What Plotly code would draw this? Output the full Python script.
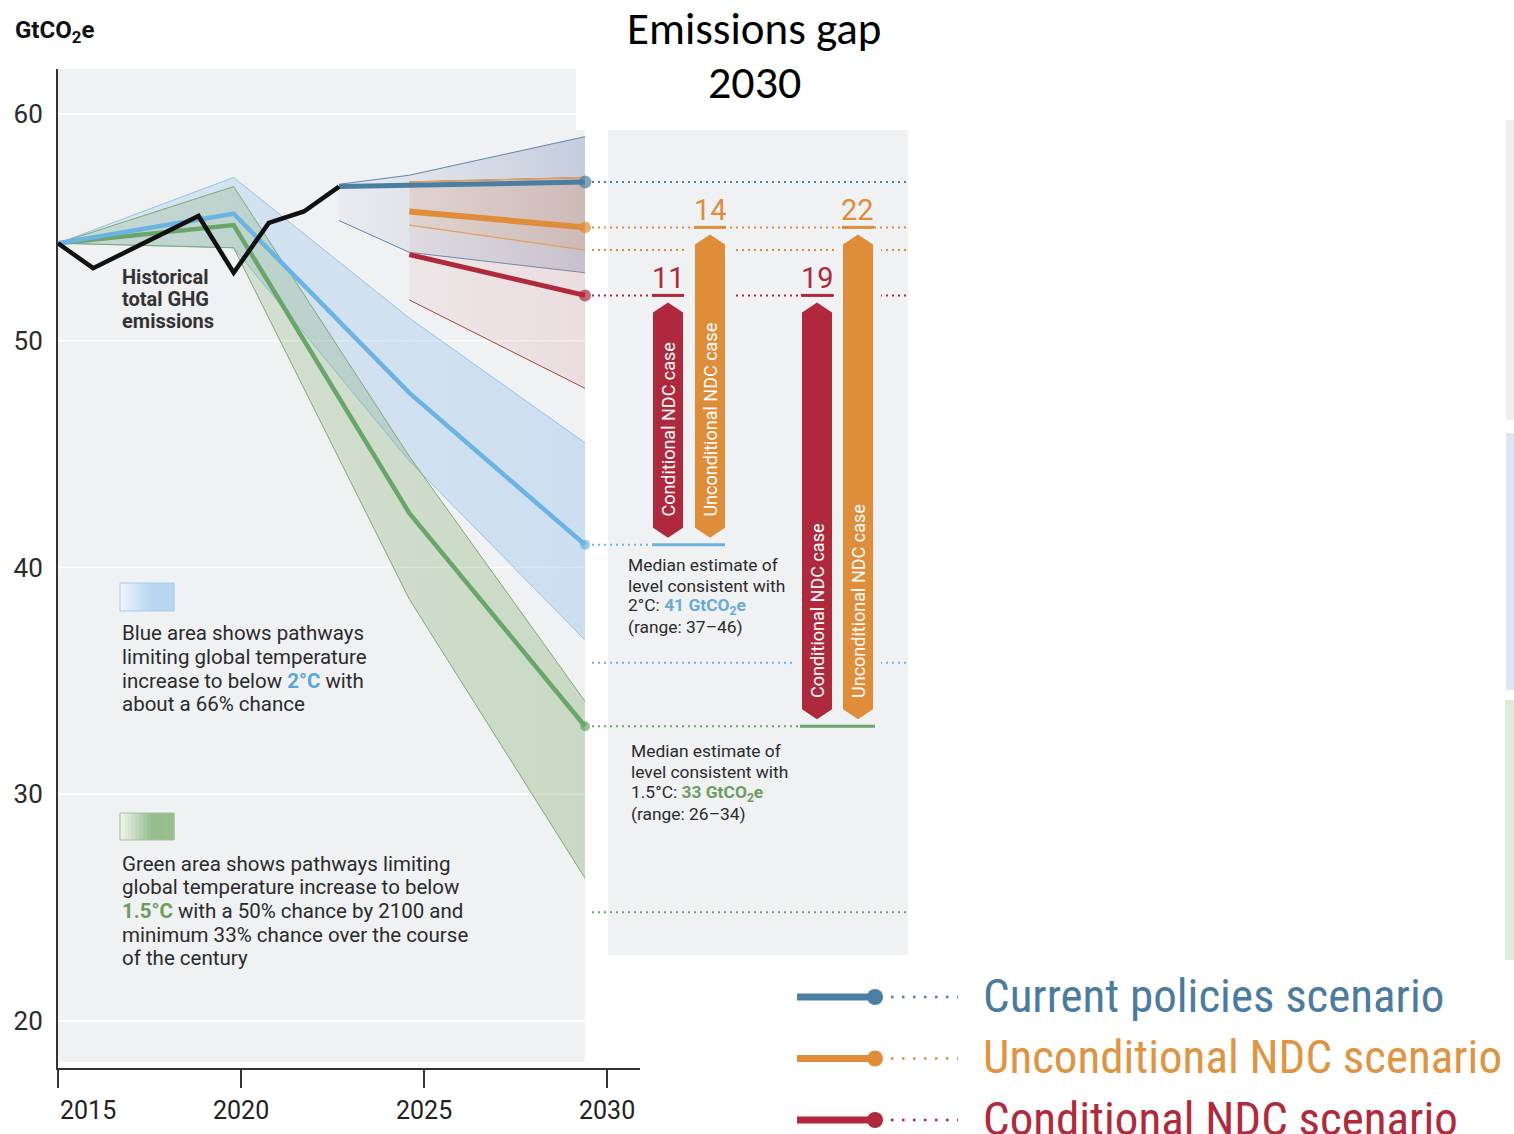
import plotly.graph_objects as go

# ---------------- data ----------------
hist_years = [2015, 2016, 2019, 2020, 2021, 2022, 2023]
hist_values = [54.3, 53.2, 55.5, 53.0, 55.2, 55.7, 56.8]

path_years = [2015, 2020, 2025, 2030]
two_deg_median = [54.3, 55.6, 47.7, 41.0]
two_deg_upper = [54.3, 57.2, 51.0, 45.5]
two_deg_lower = [54.3, 54.1, 44.7, 36.8]
one5_median = [54.3, 55.1, 42.4, 33.0]
one5_upper = [54.3, 56.8, 44.9, 34.1]
one5_lower = [54.3, 54.1, 38.6, 26.3]

cp_line_years = [2023, 2030]
cp_median = [56.8, 57.0]
cp_band_years = [2023, 2025, 2030]
cp_upper = [56.9, 57.3, 59.0]
cp_lower = [55.3, 53.9, 53.0]

ndc_years = [2025, 2030]
uncond_median = [55.7, 55.0]
uncond_upper = [57.0, 57.2]
uncond_lower = [55.1, 54.0]
cond_median = [53.8, 52.0]
cond_upper = [57.0, 57.2]
cond_lower = [51.8, 47.9]

target_2c = 41
target_15 = 33
gap_to_2c = [11, 14]      # conditional, unconditional
gap_to_15 = [19, 22]      # conditional, unconditional
extra_levels = [35.8, 24.8]

x_ticks = [2015, 2020, 2025, 2030]
y_ticks = [20, 30, 40, 50, 60]
legend_labels = ["Current policies scenario", "Unconditional NDC scenario", "Conditional NDC scenario"]

# ---------------- styling ----------------
W, H = 1514, 1134
FONT = "Roboto, 'Open Sans', sans-serif"
BG = "#f0f1f3"
C_CP = "#4a7ea3"
C_UN = "#e08d3a"
C_CO = "#b0283c"
C_2C = "#6cb3e3"
C_15 = "#6aa66a"
TXT = "#2b2b2b"


def px(x):
    return x / W


def py(y):
    return 1 - y / H


# pixel geometry of the plotting frame
X_LEFT, X_AXIS_END = 58, 640
Y_TOP, Y_BOT = 69, 1068
data_ppy = (585 - 58) / 15          # data axis: 2015 -> 58, 2030 -> 585
disp_ppy = (607 - 58) / 15          # tick axis: 2015 -> 58, 2030 -> 607
y_ppu = (1021 - 114) / 40
y_lo = 20 - (Y_BOT - 1021) / y_ppu
y_hi = 60 + (114 - Y_TOP) / y_ppu

fig = go.Figure()


def band(xs, lower, upper, edge, c0, c1, width=1.0):
    fig.add_trace(go.Scatter(x=xs, y=lower, mode="lines", line=dict(color=edge, width=width),
                             hoverinfo="skip", showlegend=False))
    fig.add_trace(go.Scatter(x=xs, y=upper, mode="lines", line=dict(color=edge, width=width),
                             fill="tonexty",
                             fillgradient=dict(type="horizontal", colorscale=[[0, c0], [1, c1]]),
                             hoverinfo="skip", showlegend=False))


band(path_years, two_deg_lower, two_deg_upper, "#93c4e6",
     "rgba(160,200,236,0.30)", "rgba(160,200,236,0.45)")
band(path_years, one5_lower, one5_upper, "#7fa874",
     "rgba(120,165,100,0.20)", "rgba(120,165,100,0.32)")
band(cp_band_years, cp_lower, cp_upper, "#5d86a8",
     "rgba(190,200,218,0.15)", "rgba(165,180,205,0.60)")
band(ndc_years, cond_lower, cond_upper, "#9c4a3c",
     "rgba(215,150,150,0.12)", "rgba(215,150,150,0.22)")
band(ndc_years, uncond_lower, uncond_upper, "#e3a05c",
     "rgba(230,160,90,0.12)", "rgba(225,165,110,0.22)", 1.3)


def median_line(xs, ys, color, width, msize):
    sizes = [0] * (len(xs) - 1) + [msize]
    fig.add_trace(go.Scatter(x=xs, y=ys, mode="lines+markers",
                             line=dict(color=color, width=width),
                             marker=dict(color=color, size=sizes, line=dict(width=0)),
                             hoverinfo="skip", showlegend=False))


median_line(path_years, one5_median, C_15, 4.5, 10)
median_line(path_years, two_deg_median, C_2C, 4.5, 10)
median_line(cp_line_years, cp_median, C_CP, 5, 13)
median_line(ndc_years, cond_median, C_CO, 5, 12)
median_line(ndc_years, uncond_median, C_UN, 6, 12)

fig.add_trace(go.Scatter(x=hist_years, y=hist_values, mode="lines",
                         line=dict(color="#111111", width=4.5), hoverinfo="skip", showlegend=False))

# invisible point so the tick axis gets its own subplot
fig.add_trace(go.Scatter(x=[2015], y=[40], xaxis="x2", yaxis="y", mode="markers",
                         marker=dict(size=1, opacity=0), hoverinfo="skip", showlegend=False))

shapes = []
annotations = []

# ---- panel backgrounds and grid ----
shapes.append(dict(type="rect", xref="paper", yref="paper", x0=px(58), x1=px(576), y0=py(130), y1=py(Y_TOP),
                   fillcolor=BG, line=dict(width=0), layer="below"))
shapes.append(dict(type="rect", xref="paper", yref="paper", x0=px(58), x1=px(585), y0=py(1062), y1=py(130),
                   fillcolor=BG, line=dict(width=0), layer="below"))
shapes.append(dict(type="rect", xref="paper", yref="paper", x0=px(608), x1=px(908), y0=py(955), y1=py(130),
                   fillcolor=BG, line=dict(width=0), layer="below"))
for v in y_ticks:
    shapes.append(dict(type="line", xref="paper", yref="y", x0=px(59), x1=px(585), y0=v, y1=v,
                       line=dict(color="white", width=1.5), layer="below"))

# thin side strips at the right edge
for y0, y1, col, x0 in [(120, 420, "#eeeeee", 1506), (433, 690, "#dbe7f4", 1506), (700, 960, "#e1ecd8", 1505)]:
    shapes.append(dict(type="rect", xref="paper", yref="paper", x0=px(x0), x1=px(1514), y0=py(y1), y1=py(y0),
                       fillcolor=col, line=dict(width=0), layer="below"))


# ---- dotted level lines to the right ----
def dotted(level, x0, x1, color):
    shapes.append(dict(type="line", xref="paper", yref="y", x0=px(x0), x1=px(x1), y0=level, y1=level,
                       line=dict(color=color, width=2, dash="2px,4px")))


dotted(cp_median[-1], 592, 908, C_CP)
dotted(uncond_median[-1], 592, 908, C_UN)
dotted(uncond_lower[-1], 592, 908, C_UN)
dotted(cond_median[-1], 592, 908, C_CO)
dotted(target_2c, 592, 652, C_2C)
dotted(target_15, 592, 800, C_15)
dotted(extra_levels[0], 592, 908, C_2C)
dotted(extra_levels[1], 592, 908, C_15)

# solid target bases
shapes.append(dict(type="line", xref="paper", yref="y", x0=px(652), x1=px(725), y0=target_2c, y1=target_2c,
                   line=dict(color=C_2C, width=3)))
shapes.append(dict(type="line", xref="paper", yref="y", x0=px(800), x1=px(875), y0=target_15, y1=target_15,
                   line=dict(color=C_15, width=3)))

# ---- gap bars ----
pad = 7 / y_ppu
tip = 10 / y_ppu
bars = [
    (668, target_2c, gap_to_2c[0], C_CO, "Conditional NDC case"),
    (710, target_2c, gap_to_2c[1], C_UN, "Unconditional NDC case"),
    (817, target_15, gap_to_15[0], C_CO, "Conditional NDC case"),
    (858, target_15, gap_to_15[1], C_UN, "Unconditional NDC case"),
]


def hexa(xc, hw, top, bot):
    xl, xr, xm = px(xc - hw), px(xc + hw), px(xc)
    return (f"M {xl} {top - tip} L {xm} {top} L {xr} {top - tip} L {xr} {bot + tip} "
            f"L {xm} {bot} L {xl} {bot + tip} Z")


for xc, base, gap, col, label in bars:
    top = base + gap
    shapes.append(dict(type="line", xref="paper", yref="y", x0=px(xc - 16), x1=px(xc + 16), y0=top, y1=top,
                       line=dict(color=col, width=3)))
for xc, base, gap, col, label in bars:
    top = base + gap
    shapes.append(dict(type="path", xref="paper", yref="y", path=hexa(xc, 23, top - pad, base + pad),
                       fillcolor=BG, line=dict(width=0)))
for xc, base, gap, col, label in bars:
    top = base + gap
    shapes.append(dict(type="path", xref="paper", yref="y", path=hexa(xc, 15, top - pad, base + pad),
                       fillcolor=col, line=dict(width=0)))
    annotations.append(dict(xref="paper", yref="y", x=px(xc), y=top, yanchor="bottom", xanchor="center",
                            yshift=-2, text=str(gap), showarrow=False,
                            font=dict(family=FONT, size=29, color=col)))
    annotations.append(dict(xref="paper", yref="y", x=px(xc + 1), y=base + pad + 0.85, yanchor="bottom",
                            xanchor="center", textangle=-90, text=label, showarrow=False,
                            font=dict(family=FONT, size=18, color="white")))


# ---- text blocks ----
def lines_block(x, ys, texts, size, color=TXT):
    for yy, t in zip(ys, texts):
        annotations.append(dict(xref="paper", yref="paper", x=px(x), y=py(yy), xanchor="left",
                                yanchor="middle", text=t, showarrow=False,
                                font=dict(family=FONT, size=size, color=color)))


lines_block(626, [565, 586, 606, 627],
            ["Median estimate of", "level consistent with",
             f"2°C: <b><span style='color:#6aaad8'>{target_2c} GtCO<sub>2</sub>e</span></b>",
             "(range: 37–46)"], 17.4)
lines_block(629, [751, 772, 793, 814],
            ["Median estimate of", "level consistent with",
             f"1.5°C: <b><span style='color:#6c9e5e'>{target_15} GtCO<sub>2</sub>e</span></b>",
             "(range: 26–34)"], 17.4)
lines_block(120, [277, 299, 321], ["<b>Historical</b>", "<b>total GHG</b>", "<b>emissions</b>"], 20, "#333333")
lines_block(120, [633, 657, 681, 704],
            ["Blue area shows pathways", "limiting global temperature",
             "increase to below <b><span style='color:#5aa6dc'>2°C</span></b> with",
             "about a 66% chance"], 20.5)
lines_block(120, [864, 887, 911, 935, 958],
            ["Green area shows pathways limiting", "global temperature increase to below",
             "<b><span style='color:#6c9e5e'>1.5°C</span></b> with a 50% chance by 2100 and",
             "minimum 33% chance over the course", "of the century"], 20.5)


# gradient swatches
def swatch(x0, x1, y0, y1, light, full, border):
    n = 14
    w = (x1 - x0) / n
    for i in range(n):
        t = min(1.0, i / (n * 0.55))
        c = tuple(round(light[k] + (full[k] - light[k]) * t) for k in range(3))
        shapes.append(dict(type="rect", xref="paper", yref="paper", x0=px(x0 + i * w), x1=px(x0 + (i + 1) * w + 0.5),
                           y0=py(y1), y1=py(y0), fillcolor=f"rgb{c}", line=dict(width=0)))
    shapes.append(dict(type="rect", xref="paper", yref="paper", x0=px(x0), x1=px(x1), y0=py(y1), y1=py(y0),
                       fillcolor="rgba(0,0,0,0)", line=dict(color=border, width=1)))


swatch(120, 174, 583, 611, (236, 243, 250), (182, 214, 240), "#a9cce8")
swatch(120, 174, 813, 840, (236, 241, 233), (150, 189, 140), "#a7c29c")

# axis title and tick labels
annotations.append(dict(xref="paper", yref="paper", x=px(13), y=py(31), xanchor="left", yanchor="middle",
                        text="<b>GtCO<sub>2</sub>e</b>", showarrow=False,
                        font=dict(family=FONT, size=24, color="#111111")))
for v in x_ticks:
    annotations.append(dict(xref="x2", yref="paper", x=v, y=py(1110), yanchor="middle",
                            xanchor="left" if v == x_ticks[0] else "center", text=str(v), showarrow=False,
                            font=dict(family=FONT, size=25, color="#222222")))

# title
annotations.append(dict(xref="paper", yref="paper", x=px(754), y=py(29), xanchor="center", yanchor="middle",
                        text="Emissions gap", showarrow=False,
                        font=dict(family="Carlito, Lato, sans-serif", size=45, color="black")))
annotations.append(dict(xref="paper", yref="paper", x=px(754), y=py(82), xanchor="center", yanchor="middle",
                        text="2030", showarrow=False,
                        font=dict(family="Carlito, Lato, sans-serif", size=46, color="black")))

# ---- scenario key ----
key_colors = [C_CP, C_UN, C_CO]
key_text_colors = ["#4b7c9f", "#e0943f", "#b3283a"]
for i, (lab, col, tcol) in enumerate(zip(legend_labels, key_colors, key_text_colors)):
    yy = 997 + i * 61.5
    shapes.append(dict(type="line", xref="paper", yref="paper", x0=px(797), x1=px(872), y0=py(yy), y1=py(yy),
                       line=dict(color=col, width=7)))
    shapes.append(dict(type="circle", xref="paper", yref="paper", xsizemode="pixel", ysizemode="pixel",
                       xanchor=px(875), yanchor=py(yy), x0=-8, x1=8, y0=-8, y1=8,
                       fillcolor=col, line=dict(width=0)))
    shapes.append(dict(type="line", xref="paper", yref="paper", x0=px(891), x1=px(958), y0=py(yy), y1=py(yy),
                       line=dict(color=col, width=2.5, dash="2.5px,8.5px")))
    annotations.append(dict(xref="paper", yref="paper", x=px(981), y=py(yy), xanchor="left", yanchor="middle",
                            text=lab, showarrow=False, yshift=2,
                            font=dict(family="'Roboto Condensed', 'Liberation Sans Narrow', Roboto, sans-serif",
                                      size=47, color=tcol)))

fig.update_layout(
    width=W, height=H, autosize=False,
    margin=dict(l=0, r=0, t=0, b=0),
    paper_bgcolor="white", plot_bgcolor="rgba(0,0,0,0)",
    showlegend=False,
    shapes=shapes, annotations=annotations,
    xaxis=dict(domain=[px(X_LEFT), px(X_AXIS_END)],
               range=[2015, 2015 + (X_AXIS_END - X_LEFT) / data_ppy],
               visible=False, showgrid=False, zeroline=False, fixedrange=True),
    xaxis2=dict(overlaying="x", anchor="y", side="bottom",
                range=[2015, 2015 + (X_AXIS_END - X_LEFT) / disp_ppy],
                showline=True, linecolor="#333333", linewidth=2,
                ticks="outside", ticklen=18, tickwidth=2, tickcolor="#333333",
                tickvals=x_ticks, showticklabels=False, showgrid=False, zeroline=False, fixedrange=True),
    yaxis=dict(domain=[py(Y_BOT), py(Y_TOP)], range=[y_lo, y_hi],
               showline=True, linecolor="#333333", linewidth=2, ticks="",
               tickvals=y_ticks, tickfont=dict(family=FONT, size=26, color="#2b2b2b"),
               ticklabelstandoff=8, showgrid=False, zeroline=False, fixedrange=True),
)

fig.write_html("out.html")
